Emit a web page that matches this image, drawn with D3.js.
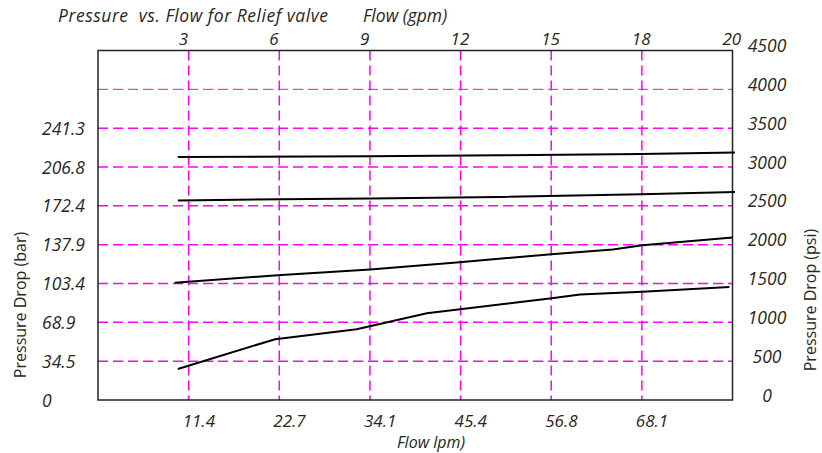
<!DOCTYPE html>
<html>
<head>
<meta charset="utf-8">
<script src="https://cdn.jsdelivr.net/npm/d3@7"></script>
<style>
  html, body { margin: 0; padding: 0; background: #fff; }
  svg { display: block; }
  text { font-family: "Open Sans", "Noto Sans", sans-serif; fill: #262626; white-space: pre; }
</style>
</head>
<body>
<svg id="chart" width="822" height="453"></svg>
<script>
// ---- data ----
const titleText = "Pressure  vs. Flow for Relief valve";
const topAxisTitle = "Flow (gpm)";
const bottomAxisTitle = "Flow lpm)";
const leftAxisTitle = "Pressure Drop (bar)";
const rightAxisTitle = "Pressure Drop (psi)";

const gpmTickValues = [3, 6, 9, 12, 15, 18, 21];
const gpmTickLabels = ["3", "6", "9", "12", "15", "18", "20"];
const gpmGridValues = [3, 6, 9, 12, 15, 18];
const lpmTickLabels = ["11.4", "22.7", "34.1", "45.4", "56.8", "68.1"];

const psiTickValues = [0, 500, 1000, 1500, 2000, 2500, 3000, 3500, 4000, 4500];
const psiGridValues = [500, 1000, 1500, 2000, 2500, 3000, 3500, 4000];
const barTickLabels = ["0", "34.5", "68.9", "103.4", "137.9", "172.4", "206.8", "241.3"];

// flow in lpm, pressure in bar
const curve1Flow = [10, 34.1, 50.3, 68.1, 79.8];
const curve1Bar  = [215.7, 216.4, 217.2, 218.4, 219.8];
const curve2Flow = [10, 22.8, 34.1, 50.3, 68.1, 79.8];
const curve2Bar  = [177.0, 178.2, 178.8, 180.2, 182.6, 184.6];
const curve3Flow = [9.6, 22.5, 34.1, 45.3, 56.8, 64.5, 68.2, 79.5];
const curve3Bar  = [104.0, 110.8, 115.9, 122.3, 129.4, 133.6, 137.4, 144.2];
const curve4Flow = [10, 22.2, 32.4, 41.2, 56.6, 60.4, 68.2, 79.1];
const curve4Bar  = [27.5, 54.0, 62.9, 77.1, 90.2, 93.7, 96.0, 100.4];

const GPM_TO_LPM = 3.7854;
const PSI_TO_BAR = 0.0689476;

// ---- layout ----
const L = 98, R = 732.5, T = 50.5, B = 400;
const FS = 17.5;
const svg = d3.select("#chart");

const xGpm = d3.scaleLinear().domain([0, 21]).range([L, R]);
const xLpm = d3.scaleLinear().domain([0, 21 * GPM_TO_LPM]).range([L, R]);
const yPsi = d3.scaleLinear().domain([0, 4500]).range([B, T]);
const yBar = d3.scaleLinear().domain([0, 4500 * PSI_TO_BAR]).range([B, T]);

// grid
const grid = svg.append("g");
grid.selectAll("line.h").data(psiGridValues).enter().append("line")
  .attr("x1", L).attr("x2", R)
  .attr("y1", d => yPsi(d)).attr("y2", d => yPsi(d))
  .attr("stroke", "#ff00ff")
  .attr("stroke-width", d => d === 4000 ? 1 : 1.5)
  .attr("stroke-dasharray", "10,5");
grid.selectAll("line.v").data(gpmGridValues).enter().append("line")
  .attr("x1", d => xGpm(d)).attr("x2", d => xGpm(d))
  .attr("y1", T).attr("y2", B)
  .attr("stroke", "#ff00ff")
  .attr("stroke-width", 1.5)
  .attr("stroke-dasharray", "10,5");

// frame
svg.append("rect").attr("x", L).attr("y", T).attr("width", R - L).attr("height", B - T)
  .attr("fill", "none").attr("stroke", "#222").attr("stroke-width", 1.5);

// curves
const line = d3.line().x(d => xLpm(d[0])).y(d => yBar(d[1]));
const curves = [
  d3.zip(curve1Flow, curve1Bar),
  d3.zip(curve2Flow, curve2Bar),
  d3.zip(curve3Flow, curve3Bar),
  d3.zip(curve4Flow, curve4Bar)
];
svg.append("g").selectAll("path").data(curves).enter().append("path")
  .attr("d", line)
  .attr("fill", "none")
  .attr("stroke", "#000")
  .attr("stroke-width", 2);

// top gpm labels
svg.append("g").selectAll("text").data(gpmTickValues).enter().append("text")
  .attr("x", d => xGpm(d) - 10)
  .attr("y", 44.5)
  .attr("font-size", 17).attr("font-style", "italic")
  .text((d, i) => gpmTickLabels[i]);

// bottom lpm labels
svg.append("g").selectAll("text").data(gpmGridValues).enter().append("text")
  .attr("x", d => xGpm(d) - 6)
  .attr("y", 427)
  .attr("font-size", 17).attr("font-style", "italic")
  .text((d, i) => lpmTickLabels[i]);

// left bar labels
svg.append("g").selectAll("text").data(psiTickValues.slice(0, barTickLabels.length)).enter().append("text")
  .attr("x", 42)
  .attr("y", d => yPsi(d) + 6.5)
  .attr("font-size", FS).attr("font-style", "italic")
  .text((d, i) => barTickLabels[i]);

// right psi labels
svg.append("g").selectAll("text").data(psiTickValues).enter().append("text")
  .attr("x", 767)
  .attr("y", d => yPsi(d) + 1.5)
  .attr("text-anchor", "middle")
  .attr("font-size", FS).attr("font-style", "italic")
  .text(d => String(d));

// titles
svg.append("text").attr("x", 58).attr("y", 21.5)
  .attr("font-size", 17.5).attr("font-style", "italic")
  .attr("textLength", 270).attr("lengthAdjust", "spacing")
  .text(titleText);
svg.append("text").attr("x", 363).attr("y", 21.5)
  .attr("font-size", 17.5).attr("font-style", "italic").text(topAxisTitle);
svg.append("text").attr("x", 431).attr("y", 448)
  .attr("text-anchor", "middle")
  .attr("font-size", 16).attr("font-style", "italic").text(bottomAxisTitle);
svg.append("text")
  .attr("transform", "translate(26,305) rotate(-90)")
  .attr("text-anchor", "middle")
  .attr("font-size", 16).text(leftAxisTitle);
svg.append("text")
  .attr("transform", "translate(816,300) rotate(-90)")
  .attr("text-anchor", "middle")
  .attr("font-size", 16).text(rightAxisTitle);
</script>
</body>
</html>
